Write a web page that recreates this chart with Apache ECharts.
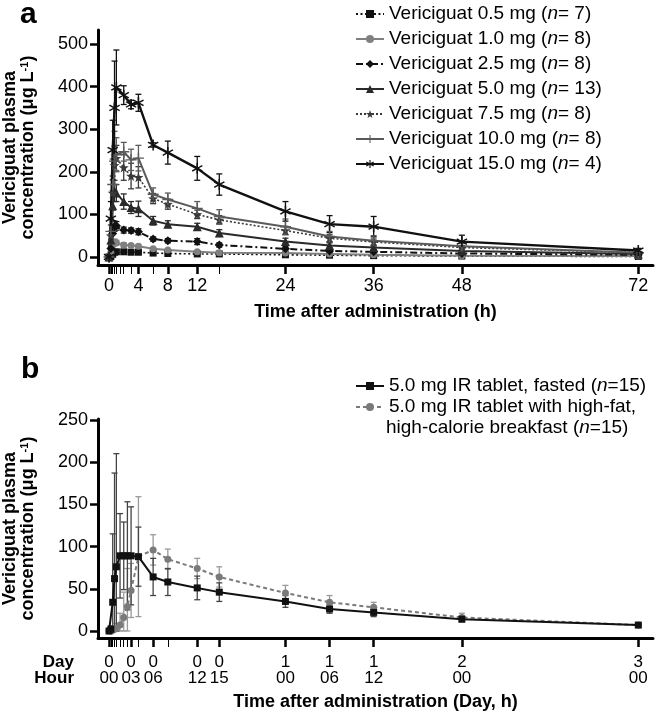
<!DOCTYPE html>
<html><head><meta charset="utf-8">
<script src="https://cdn.jsdelivr.net/npm/echarts@6/dist/echarts.min.js"></script>
<style>html,body{margin:0;padding:0;background:#fff}#c{width:658px;height:717px}</style>
</head><body><div id="c"></div><script>
// ---------- Panel a data ----------
const timesA = [0, 0.25, 0.5, 0.75, 1, 2, 3, 4, 6, 8, 12, 15, 24, 30, 36, 48, 72];
const namesA = ['Vericiguat 0.5 mg (n= 7)', 'Vericiguat 1.0 mg (n= 8)', 'Vericiguat 2.5 mg (n= 8)',
  'Vericiguat 5.0 mg (n= 13)', 'Vericiguat 7.5 mg (n= 8)', 'Vericiguat 10.0 mg (n= 8)', 'Vericiguat 15.0 mg (n= 4)'];
const mean05 = [0, 2, 6, 11, 12, 12, 11, 11, 9, 8, 7, 7, 5, 4, 3, 2, 1];
const sd05   = [0, 1, 3, 4, 3, 2, 2, 2, 2, 2, 2, 2, 1, 1, 1, 1, 1];
const mean10 = [0, 10, 28, 34, 33, 28, 27, 25, 19, 16, 12, 10, 9, 7, 5, 3, 2];
const sd10   = [0, 5, 8, 8, 6, 5, 4, 4, 3, 3, 3, 3, 2, 2, 2, 1, 1];
const mean25 = [0, 20, 55, 72, 73, 63, 62, 59, 42, 38, 36, 28, 19, 14, 12, 8, 5];
const sd25   = [0, 10, 15, 12, 10, 7, 6, 7, 5, 5, 7, 5, 5, 4, 4, 3, 2];
const mean50 = [0, 40, 120, 155, 150, 130, 116, 113, 85, 77, 71, 56, 36, 27, 22, 14, 7];
const sd50   = [0, 20, 35, 25, 20, 18, 14, 18, 10, 8, 8, 8, 8, 6, 5, 4, 2];
const mean75 = [0, 50, 150, 215, 232, 210, 190, 187, 137, 124, 100, 87, 62, 44, 35, 22, 10];
const sd75   = [0, 25, 40, 45, 30, 30, 30, 25, 12, 12, 10, 10, 10, 8, 7, 5, 3];
const mean100 = [0, 60, 170, 225, 240, 247, 228, 232, 147, 135, 114, 95, 71, 48, 38, 25, 10];
const sd100   = [0, 30, 60, 70, 40, 22, 25, 30, 15, 15, 16, 16, 18, 12, 12, 7, 3];
const mean150 = [0, 90, 251, 350, 398, 380, 358, 362, 263, 245, 208, 170, 107, 77, 71, 36, 15];
const sd150   = [0, 40, 70, 110, 88, 22, 10, 20, 5, 27, 28, 25, 23, 20, 24, 15, 5];
const majorTicksA = [0, 4, 8, 12, 24, 36, 48, 72];
const minorTicksA = [0.25, 0.5, 0.75, 1, 1.5, 2, 3, 6, 15];
const yTicksA = [0, 100, 200, 300, 400, 500];

// ---------- Panel b data ----------
const timesB = [0, 0.25, 0.5, 0.75, 1, 1.5, 2, 2.5, 3, 4, 6, 8, 12, 15, 24, 30, 36, 48, 72];
const namesB = ['5.0 mg IR tablet, fasted (n=15)', '5.0 mg IR tablet with high-fat,'];
const fastedMean = [0, 2, 34, 62, 76, 89, 89, 89, 89, 88, 64, 58, 51, 46, 35, 26, 22, 14, 7];
const fastedSD   = [0, 4, 81, 125, 134, 50, 40, 64, 58, 35, 22, 16, 14, 11, 7, 5, 5, 3, 2];
const fedMean = [0, 0, 1, 2, 3, 7, 16, 29, 48, 88, 96, 85, 74, 64, 45, 34, 28, 16, 7];
const fedSD   = [0, 0, 2, 4, 6, 14, 30, 45, 32, 71, 18, 12, 12, 12, 9, 8, 6, 5, 2];
const majorTicksB = [0, 3, 6, 12, 15, 24, 30, 36, 48, 72];
const dayLabelsB  = ['0', '0', '0', '0', '0', '1', '1', '1', '2', '3'];
const hourLabelsB = ['00', '03', '06', '12', '15', '00', '06', '12', '00', '00'];
const minorTicksB = [0.25, 0.5, 0.75, 1, 1.5, 2, 2.5, 4, 8];
const yTicksB = [0, 50, 100, 150, 200, 250];

// ---------- styles ----------
const FONT = '"Liberation Sans", Arial, Helvetica, sans-serif';
const STAR = 'path://M0,-10 L2.35,-3.24 9.51,-3.09 3.8,1.24 5.88,8.09 0,4 -5.88,8.09 -3.8,1.24 -9.51,-3.09 -2.35,-3.24Z';
const PLUS = 'path://M-1.3,-10 H1.3 V-1.3 H10 V1.3 H1.3 V10 H-1.3 V1.3 H-10 V-1.3 H-1.3Z';
const AST = 'path://M-1.3,-10H1.3V-2.2L8,-6.1 9.3,-3.9 2.6,0 9.3,3.9 8,6.1 1.3,2.2V10H-1.3V2.2L-8,6.1 -9.3,3.9 -2.6,0 -9.3,-3.9 -8,-6.1 -1.3,-2.2Z';
const stylesA = [
  {color: '#111', type: [2, 2.5], width: 1.6, symbol: 'rect', size: 7},
  {color: '#808080', type: 'solid', width: 2, symbol: 'circle', size: 7},
  {color: '#111', type: [7, 3, 2, 3], width: 2, symbol: 'diamond', size: 9},
  {color: '#2a2a2a', type: 'solid', width: 2, symbol: 'triangle', size: 9},
  {color: '#3a3a3a', type: [2, 2], width: 1.6, symbol: STAR, size: 10},
  {color: '#5a5a5a', type: 'solid', width: 2, symbol: PLUS, size: 11},
  {color: '#111', type: 'solid', width: 2.4, symbol: AST, size: 11}
];
const meansA = [mean05, mean10, mean25, mean50, mean75, mean100, mean150];
const sdsA = [sd05, sd10, sd25, sd50, sd75, sd100, sd150];

function errRender(color) {
  return function (params, api) {
    const x = api.value(0), lo = api.value(1), hi = api.value(2);
    const p1 = api.coord([x, hi]), p2 = api.coord([x, lo]);
    const w = 3;
    const st = {stroke: color, lineWidth: 1.3, fill: null};
    return {type: 'group', children: [
      {type: 'line', shape: {x1: p1[0], y1: p1[1], x2: p2[0], y2: p2[1]}, style: st},
      {type: 'line', shape: {x1: p1[0] - w, y1: p1[1], x2: p1[0] + w, y2: p1[1]}, style: st},
      {type: 'line', shape: {x1: p2[0] - w, y1: p2[1], x2: p2[0] + w, y2: p2[1]}, style: st}
    ]};
  };
}
function errData(times, mean, sd) {
  return times.map((t, i) => [t, Math.max(0, mean[i] - sd[i]), mean[i] + sd[i]]);
}

const series = [];
meansA.forEach((m, k) => {
  const s = stylesA[k];
  series.push({type: 'custom', xAxisIndex: 0, yAxisIndex: 0, clip: true, silent: true, z: 1,
    renderItem: errRender(s.color), encode: {x: 0, y: [1, 2]}, data: errData(timesA, m, sdsA[k])});
});
meansA.forEach((m, k) => {
  const s = stylesA[k];
  series.push({name: namesA[k], type: 'line', xAxisIndex: 0, yAxisIndex: 0, z: 3,
    symbol: s.symbol, symbolSize: s.size, showAllSymbol: true,
    lineStyle: {color: s.color, width: s.width, type: s.type},
    itemStyle: {color: s.color, borderWidth: 0},
    data: timesA.map((t, i) => [t, m[i]])});
});
// panel b
series.push({type: 'custom', xAxisIndex: 2, yAxisIndex: 1, clip: true, silent: true, z: 1,
  renderItem: errRender('#9a9a9a'), encode: {x: 0, y: [1, 2]}, data: errData(timesB, fedMean, fedSD)});
series.push({type: 'custom', xAxisIndex: 2, yAxisIndex: 1, clip: true, silent: true, z: 1,
  renderItem: errRender('#444'), encode: {x: 0, y: [1, 2]}, data: errData(timesB, fastedMean, fastedSD)});
series.push({name: namesB[1], type: 'line', xAxisIndex: 2, yAxisIndex: 1, z: 3,
  symbol: 'circle', symbolSize: 7, showAllSymbol: true,
  lineStyle: {color: '#7a7a7a', width: 2, type: [4, 3]}, itemStyle: {color: '#7a7a7a'},
  data: timesB.map((t, i) => [t, fedMean[i]])});
series.push({name: namesB[0], type: 'line', xAxisIndex: 2, yAxisIndex: 1, z: 4,
  symbol: 'rect', symbolSize: 7, showAllSymbol: true,
  lineStyle: {color: '#111', width: 2}, itemStyle: {color: '#111'},
  data: timesB.map((t, i) => [t, fastedMean[i]])});

const axisLine = {show: true, onZero: false, lineStyle: {color: '#000', width: 3}};
const noLine = {show: false, onZero: false};
const txt = {fontFamily: FONT, color: '#000'};
const yName = '{b|Vericiguat plasma}\n{b|concentration (μg L}{s|-1}{b|)}';
const yNameStyle = {fontFamily: FONT, color: '#000', lineHeight: 18,
  rich: {b: {fontFamily: FONT, fontWeight: 'bold', fontSize: 18, color: '#000', lineHeight: 18},
         s: {fontFamily: FONT, fontWeight: 'bold', fontSize: 11, color: '#000', verticalAlign: 'top', lineHeight: 18, padding: [0, 0, 6, 0]}}};

function legendFmt(name) { return name.replace('(n', '({i|n}{r|').replace(/\)$/, ')}'); }
const legendRich = {
  i: {fontFamily: FONT, fontStyle: 'italic', fontSize: 19, color: '#000'},
  r: {fontFamily: FONT, fontSize: 19, color: '#000'}
};

const option = {
  backgroundColor: '#fff',
  animation: false,
  grid: [
    {left: 98, top: 30, width: 555, height: 235, outerBoundsMode: 'none', containLabel: false},
    {left: 98, top: 419, width: 555, height: 219, outerBoundsMode: 'none', containLabel: false}
  ],
  xAxis: [
    {type: 'value', gridIndex: 0, position: 'bottom', min: -1.5, max: 74, splitLine: {show: false}, axisLine,
      axisTick: {show: true, customValues: majorTicksA, length: 9, lineStyle: {color: '#000', width: 2.5}},
      axisLabel: {customValues: majorTicksA, fontSize: 18, margin: 12, ...txt},
      name: 'Time after administration (h)', nameLocation: 'middle', nameGap: 38,
      nameTextStyle: {fontFamily: FONT, fontWeight: 'bold', fontSize: 18, color: '#000', verticalAlign: 'top'}},
    {type: 'value', gridIndex: 0, position: 'bottom', min: -1.5, max: 74, splitLine: {show: false}, axisLine: noLine,
      axisTick: {show: true, customValues: minorTicksA, length: 9, lineStyle: {color: '#000', width: 1}},
      axisLabel: {show: false}},
    {type: 'value', gridIndex: 1, position: 'bottom', min: -1.5, max: 74, splitLine: {show: false}, axisLine,
      axisTick: {show: true, customValues: majorTicksB, length: 9, lineStyle: {color: '#000', width: 2.5}},
      axisLabel: {customValues: majorTicksB, fontSize: 17, lineHeight: 16, margin: 16, ...txt,
        formatter: v => { const i = majorTicksB.indexOf(v); return i < 0 ? '' : dayLabelsB[i] + '\n' + hourLabelsB[i]; }},
      name: 'Time after administration (Day, h)', nameLocation: 'middle', nameGap: 55,
      nameTextStyle: {fontFamily: FONT, fontWeight: 'bold', fontSize: 18, color: '#000', verticalAlign: 'top'}},
    {type: 'value', gridIndex: 1, position: 'bottom', min: -1.5, max: 74, splitLine: {show: false}, axisLine: noLine,
      axisTick: {show: true, customValues: minorTicksB, length: 9, lineStyle: {color: '#000', width: 1}},
      axisLabel: {show: false}}
  ],
  yAxis: [
    {type: 'value', gridIndex: 0, min: -19, max: 533, splitLine: {show: false}, axisLine,
      axisTick: {show: true, customValues: yTicksA, length: 8, lineStyle: {color: '#000', width: 2.5}},
      axisLabel: {customValues: yTicksA, fontSize: 18, margin: 10, ...txt},
      name: yName, nameLocation: 'middle', nameGap: 61, nameRotate: 90, nameTextStyle: yNameStyle},
    {type: 'value', gridIndex: 1, min: -8.3, max: 251, splitLine: {show: false}, axisLine,
      axisTick: {show: true, customValues: yTicksB, length: 8, lineStyle: {color: '#000', width: 2.5}},
      axisLabel: {customValues: yTicksB, fontSize: 18, margin: 10, ...txt},
      name: yName, nameLocation: 'middle', nameGap: 61, nameRotate: 90, nameTextStyle: yNameStyle}
  ],
  legend: [
    {data: namesA, orient: 'vertical', left: 350, top: -1, itemWidth: 28, itemHeight: 10, itemGap: 5,
      selectedMode: false, formatter: legendFmt,
      textStyle: {fontFamily: FONT, fontSize: 19, color: '#000', lineHeight: 20, rich: legendRich}},
    {data: namesB, orient: 'vertical', left: 350, top: 371, itemWidth: 28, itemHeight: 10, itemGap: 1,
      selectedMode: false, formatter: legendFmt,
      textStyle: {fontFamily: FONT, fontSize: 19, color: '#000', lineHeight: 20, rich: legendRich}}
  ],
  graphic: [
    {type: 'text', left: 20, top: 0, style: {text: 'a', font: 'bold 30px ' + FONT, fill: '#000'}},
    {type: 'text', left: 21, top: 355, style: {text: 'b', font: 'bold 30px ' + FONT, fill: '#000'}},
    {type: 'text', right: 584, top: 654, style: {text: 'Day', font: 'bold 17px ' + FONT, fill: '#000', textAlign: 'right'}},
    {type: 'text', right: 584, top: 670, style: {text: 'Hour', font: 'bold 17px ' + FONT, fill: '#000', textAlign: 'right'}},
    {type: 'text', left: 386, top: 418, style: {
      text: '{r|high-calorie breakfast (}{i|n}{r|=15)}',
      rich: legendRich, font: '19px ' + FONT, fill: '#000'}}
  ],
  series
};
const chart = echarts.init(document.getElementById('c'), null, {renderer: 'canvas'});
chart.setOption(option);
</script></body></html>
